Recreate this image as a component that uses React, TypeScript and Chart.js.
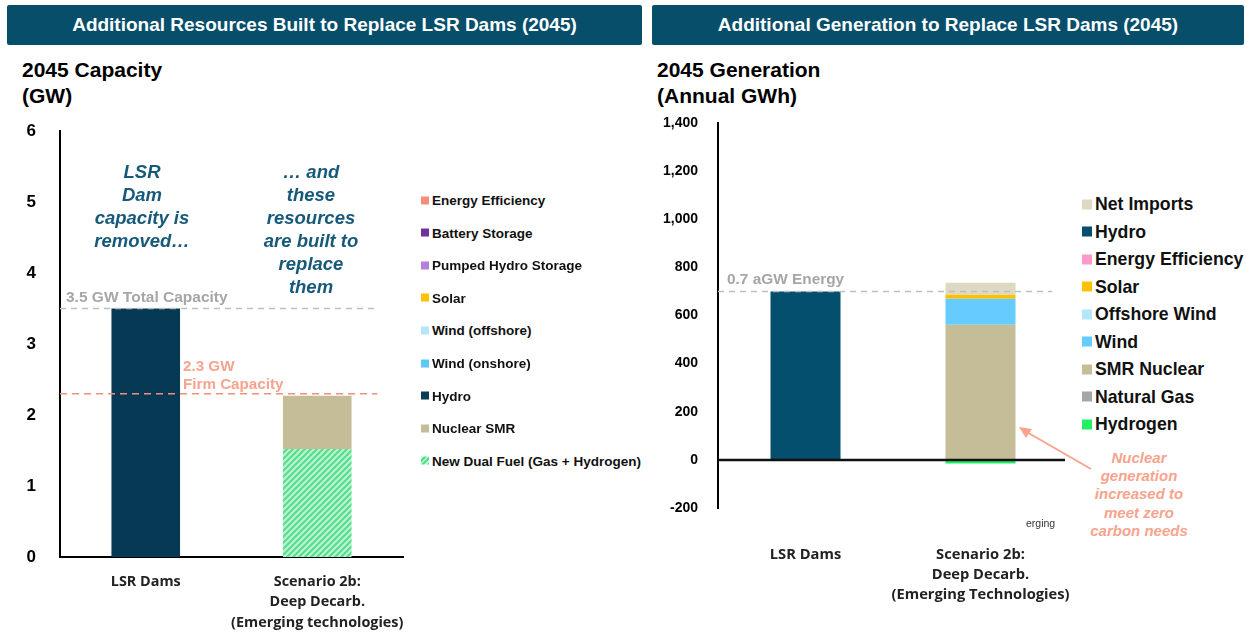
import React, { useEffect, useRef } from "react";
import { Chart, registerables } from "chart.js";

Chart.register(...registerables);

// ---------- Data ----------
const capCategories = [["LSR Dams"], ["Scenario 2b:", "Deep Decarb.", "(Emerging technologies)"]];
const capTicks = [0, 1, 2, 3, 4, 5, 6];
const capDualFuel = [0, 1.52];
const capNuclearSMR = [0, 0.75];
const capHydro = [3.5, 0];
const capWindOn = [0, 0];
const capWindOff = [0, 0];
const capSolar = [0, 0];
const capPumped = [0, 0];
const capBattery = [0, 0];
const capEE = [0, 0];
const capTotalLine = 3.5;
const capFirmLine = 2.3;

const genCategories = [["LSR Dams"], ["Scenario 2b:", "Deep Decarb.", "(Emerging Technologies)"]];
const genTicks = [-200, 0, 200, 400, 600, 800, 1000, 1200, 1400];
const genHydrogen = [0, -15];
const genGas = [0, 0];
const genNuclear = [0, 562];
const genWind = [0, 108];
const genOffshore = [0, 0];
const genSolar = [0, 16];
const genEE = [0, 0];
const genHydro = [700, 0];
const genImports = [0, 50];
const genEnergyLine = 700;

const capLegend = [
  ["Energy Efficiency", "#F4907A"],
  ["Battery Storage", "#7030A0"],
  ["Pumped Hydro Storage", "#B482DA"],
  ["Solar", "#FFC000"],
  ["Wind (offshore)", "#B4E6FA"],
  ["Wind (onshore)", "#5BC8F5"],
  ["Hydro", "#0B3C55"],
  ["Nuclear SMR", "#C4BD97"],
  ["New Dual Fuel (Gas + Hydrogen)", "hatch"],
];
const genLegend = [
  ["Net Imports", "#DDD9C3"],
  ["Hydro", "#044E6E"],
  ["Energy Efficiency", "#FF99CC"],
  ["Solar", "#FFC000"],
  ["Offshore Wind", "#B4E6FA"],
  ["Wind", "#66CCFF"],
  ["SMR Nuclear", "#C4BD97"],
  ["Natural Gas", "#A6A6A6"],
  ["Hydrogen", "#22EE66"],
];

const ARIAL = "'Liberation Sans', Arial, sans-serif";
const SEMI = "'Open Sans', 'Noto Sans', sans-serif";

function makeHatch() {
  const c = document.createElement("canvas");
  c.width = 6;
  c.height = 6;
  const g = c.getContext("2d")!;
  g.fillStyle = "#B9F3CF";
  g.fillRect(0, 0, 6, 6);
  g.strokeStyle = "#55DD8E";
  g.lineWidth = 2;
  g.beginPath();
  g.moveTo(-1, 7);
  g.lineTo(7, -1);
  g.moveTo(-4, 4);
  g.lineTo(4, -4);
  g.moveTo(2, 10);
  g.lineTo(10, 2);
  g.stroke();
  return g.createPattern(c, "repeat")!;
}

function hline(chart: any, value: number, x0: number, x1: number, color: string, dash: number[], w = 1.6) {
  const { ctx, scales } = chart;
  const y = scales.y.getPixelForValue(value);
  ctx.save();
  ctx.strokeStyle = color;
  ctx.lineWidth = w;
  ctx.setLineDash(dash);
  ctx.beginPath();
  ctx.moveTo(x0, y);
  ctx.lineTo(x1, y);
  ctx.stroke();
  ctx.restore();
}

const xFit = (h: number) => (s: any) => {
  s.height = h;
  s.paddingLeft = 0;
  s.paddingRight = 0;
};

function CapacityChart() {
  const ref = useRef<HTMLCanvasElement>(null);
  useEffect(() => {
    const hatch = makeHatch();
    const ds = (label: string, data: number[], color: any) => ({
      label,
      data,
      backgroundColor: color,
      borderWidth: 0,
      barPercentage: 0.8,
      categoryPercentage: 0.5,
    });
    const chart = new Chart(ref.current!, {
      type: "bar",
      data: {
        labels: capCategories,
        datasets: [
          ds("New Dual Fuel (Gas + Hydrogen)", capDualFuel, hatch),
          ds("Nuclear SMR", capNuclearSMR, "#C4BD97"),
          ds("Hydro", capHydro, "#063A54"),
          ds("Wind (onshore)", capWindOn, "#5BC8F5"),
          ds("Wind (offshore)", capWindOff, "#B4E6FA"),
          ds("Solar", capSolar, "#FFC000"),
          ds("Pumped Hydro Storage", capPumped, "#B482DA"),
          ds("Battery Storage", capBattery, "#7030A0"),
          ds("Energy Efficiency", capEE, "#F4907A"),
        ],
      },
      options: {
        animation: false,
        responsive: false,
        maintainAspectRatio: false,
        layout: { padding: { top: 31, right: 12, left: 0, bottom: 0 } },
        plugins: { legend: { display: false }, tooltip: { enabled: false } },
        scales: {
          x: {
            stacked: true,
            grid: { display: false },
            border: { display: true, color: "#000", width: 2 },
            ticks: { color: "#222", font: { family: SEMI, size: 14.4, weight: "bold", lineHeight: 1.45 }, padding: 6, maxRotation: 0, autoSkip: false },
            afterFit: xFit(76),
          },
          y: {
            stacked: true,
            min: 0,
            max: 6,
            afterBuildTicks: (s: any) => { s.ticks = capTicks.map((v) => ({ value: v })); },
            grid: { display: false },
            border: { display: true, color: "#000", width: 2 },
            ticks: { color: "#000", font: { family: ARIAL, size: 17, weight: "bold" }, padding: 16 },
            afterFit: (s: any) => { s.width = 60; },
          },
        },
      },
      plugins: [
        {
          id: "lines",
          afterDatasetsDraw(c: any) {
            const a = c.chartArea;
            hline(c, capTotalLine, a.left, a.left + (a.right - a.left) * 0.925, "#BFBFBF", [6, 5]);
            hline(c, capFirmLine, a.left, a.left + (a.right - a.left) * 0.925, "#F4907A", [7, 5]);
          },
        },
      ],
    });
    return () => chart.destroy();
  }, []);
  return <canvas ref={ref} width={415} height={533} style={{ position: "absolute", left: 0, top: 100 }} />;
}

function GenerationChart() {
  const ref = useRef<HTMLCanvasElement>(null);
  useEffect(() => {
    const ds = (label: string, data: number[], color: string) => ({
      label,
      data,
      backgroundColor: color,
      borderWidth: 0,
      barPercentage: 0.8,
      categoryPercentage: 0.5,
    });
    const chart = new Chart(ref.current!, {
      type: "bar",
      data: {
        labels: genCategories,
        datasets: [
          ds("Hydrogen", genHydrogen, "#22EE66"),
          ds("Natural Gas", genGas, "#A6A6A6"),
          ds("SMR Nuclear", genNuclear, "#C4BD97"),
          ds("Wind", genWind, "#66CCFF"),
          ds("Offshore Wind", genOffshore, "#B4E6FA"),
          ds("Solar", genSolar, "#FFC000"),
          ds("Energy Efficiency", genEE, "#FF99CC"),
          ds("Hydro", genHydro, "#044E6E"),
          ds("Net Imports", genImports, "#DDD9C3"),
        ],
      },
      options: {
        animation: false,
        responsive: false,
        maintainAspectRatio: false,
        layout: { padding: { top: 23, right: 12, left: 0, bottom: 0 } },
        plugins: { legend: { display: false }, tooltip: { enabled: false } },
        scales: {
          x: {
            stacked: true,
            grid: { display: false },
            border: { display: false },
            ticks: { color: "#222", font: { family: SEMI, size: 14.7, weight: "bold", lineHeight: 1.36 }, padding: 29, maxRotation: 0, autoSkip: false },
            afterFit: xFit(125),
          },
          y: {
            stacked: true,
            min: -200,
            max: 1400,
            afterBuildTicks: (s: any) => { s.ticks = genTicks.map((v) => ({ value: v })); },
            grid: { display: false },
            border: { display: true, color: "#000", width: 2 },
            ticks: {
              color: "#000",
              font: { family: ARIAL, size: 14, weight: "bold" },
              padding: 12,
              callback: (v: any) => Number(v).toLocaleString("en-US"),
            },
            afterFit: (s: any) => { s.width = 68; },
          },
        },
      },
      plugins: [
        {
          id: "lines",
          afterDatasetsDraw(c: any) {
            const a = c.chartArea;
            hline(c, 0, a.left, a.right - 3, "#111", [], 2.5);
            hline(c, genEnergyLine, a.left, a.left + (a.right - a.left) * 0.955, "#BFBFBF", [6, 5]);
          },
        },
      ],
    });
    return () => chart.destroy();
  }, []);
  return <canvas ref={ref} width={430} height={533} style={{ position: "absolute", left: 650, top: 100 }} />;
}

const abs = (x: number, y: number, extra: any = {}) => ({ position: "absolute" as const, left: x, top: y, whiteSpace: "nowrap" as const, ...extra });

function Header({ x, w, text }: { x: number; w: number; text: string }) {
  return (
    <div
      style={abs(x, 5, {
        width: w,
        height: 40,
        background: "#074E6B",
        color: "#fff",
        fontFamily: ARIAL,
        fontWeight: "bold",
        fontSize: 19,
        display: "flex",
        alignItems: "center",
        justifyContent: "center",
        borderRadius: 2,
      })}
    >
      {text}
    </div>
  );
}

function Legend({ items, x, y0, step, size, box }: any) {
  return (
    <>
      {items.map(([label, color]: any, i: number) => (
        <div key={label} style={abs(x, y0 + step * i, { transform: "translateY(-50%)", display: "flex", alignItems: "center", fontFamily: ARIAL, fontWeight: "bold", fontSize: size, color: "#111" })}>
          <span
            style={{
              display: "inline-block",
              width: box,
              height: box,
              marginRight: 3,
              background: color === "hatch" ? "repeating-linear-gradient(135deg, #B9F3CF 0 2px, #55DD8E 2px 4px)" : color,
            }}
          />
          {label}
        </div>
      ))}
    </>
  );
}

function Lines({ x, y, lines, lh, style }: any) {
  return (
    <div style={abs(x, y, { transform: "translateX(-50%)", textAlign: "center", lineHeight: lh + "px", ...style })}>
      {lines.map((l: string, i: number) => (
        <div key={i}>{l}</div>
      ))}
    </div>
  );
}

export default function App() {
  const teal = { fontFamily: ARIAL, fontWeight: "bold", fontStyle: "italic", fontSize: 18.5, color: "#17597A" };
  const salmonIt = { fontFamily: ARIAL, fontWeight: "bold", fontStyle: "italic", fontSize: 15, color: "#F7A38D" };
  const title = { fontFamily: ARIAL, fontWeight: "bold", fontSize: 21, lineHeight: "26px", color: "#000" };
  return (
    <div style={{ position: "absolute", left: 0, top: 0, width: 1246, height: 633, background: "#fff", overflow: "hidden" }}>
      <Header x={7} w={635} text="Additional Resources Built to Replace LSR Dams (2045)" />
      <Header x={652} w={592} text="Additional Generation to Replace LSR Dams (2045)" />
      <div style={abs(22, 57, title)}>
        2045 Capacity
        <br />
        (GW)
      </div>
      <div style={abs(657, 57, title)}>
        2045 Generation
        <br />
        (Annual GWh)
      </div>
      <CapacityChart />
      <GenerationChart />
      <Lines x={142} y={160} lh={23} lines={["LSR", "Dam", "capacity is", "removed…"]} style={teal} />
      <Lines x={311} y={160} lh={23} lines={["… and", "these", "resources", "are built to", "replace", "them"]} style={teal} />
      <div style={abs(66, 288, { fontFamily: ARIAL, fontWeight: "bold", fontSize: 15.5, color: "#A6A6A6" })}>3.5 GW Total Capacity</div>
      <div style={abs(183, 357, { fontFamily: ARIAL, fontWeight: "bold", fontSize: 15.2, color: "#F7A38D", lineHeight: "18px" })}>
        2.3 GW
        <br />
        Firm Capacity
      </div>
      <div style={abs(727, 270, { fontFamily: ARIAL, fontWeight: "bold", fontSize: 15.4, color: "#A6A6A6" })}>0.7 aGW Energy</div>
      <Legend items={capLegend} x={421} y0={200} step={32.6} size={13.5} box={8} />
      <Legend items={genLegend} x={1082} y0={204} step={27.5} size={17.7} box={10} />
      <Lines x={1139} y={449} lh={18.2} lines={["Nuclear", "generation", "increased to", "meet zero", "carbon needs"]} style={salmonIt} />
      <div style={abs(1026, 517, { fontFamily: ARIAL, fontSize: 10.5, color: "#333" })}>erging</div>
      <svg width={1246} height={633} style={{ position: "absolute", left: 0, top: 0, pointerEvents: "none" }}>
        <line x1={1091} y1={469} x2={1025} y2={431} stroke="#F7A38D" strokeWidth={2} />
        <polygon points="1019,427 1032,429 1026,438" fill="#F7A38D" />
      </svg>
    </div>
  );
}
